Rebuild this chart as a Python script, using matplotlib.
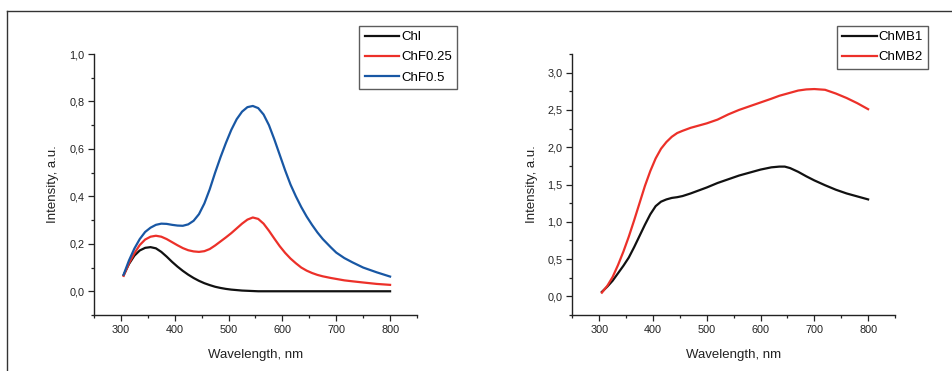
import matplotlib
matplotlib.use("Agg")
import matplotlib.pyplot as plt
from matplotlib.ticker import MultipleLocator, FuncFormatter
from matplotlib.lines import Line2D

plt.rcParams['font.family'] = ['Liberation Sans', 'DejaVu Sans']

# ---- Left panel data ----
wl_left = [305, 315, 325, 335, 345, 355, 365, 375, 385, 395, 405, 415, 425, 435, 445,
           455, 465, 475, 485, 495, 505, 515, 525, 535, 545, 555, 565, 575, 585, 595,
           605, 615, 625, 635, 645, 655, 665, 675, 690, 700, 715, 730, 750, 775, 800]
chl = [0.068, 0.115, 0.150, 0.172, 0.183, 0.186, 0.181, 0.166, 0.146, 0.124,
       0.104, 0.086, 0.070, 0.056, 0.044, 0.034, 0.026, 0.019, 0.014, 0.010,
       0.007, 0.005, 0.003, 0.002, 0.001, 0.0, 0.0, 0.0, 0.0, 0.0,
       0.0, 0.0, 0.0, 0.0, 0.0, 0.0, 0.0, 0.0, 0.0, 0.0, 0.0, 0.0, 0.0, 0.0, 0.0]
chf025 = [0.065, 0.118, 0.160, 0.195, 0.218, 0.230, 0.234, 0.230, 0.220, 0.207,
          0.194, 0.182, 0.173, 0.168, 0.166, 0.169, 0.178, 0.193, 0.210, 0.227,
          0.245, 0.265, 0.285, 0.302, 0.311, 0.305, 0.285, 0.255, 0.222, 0.190,
          0.162, 0.138, 0.118, 0.100, 0.087, 0.077, 0.069, 0.063, 0.056, 0.052,
          0.046, 0.042, 0.037, 0.031, 0.027]
chf05 = [0.070, 0.130, 0.180, 0.220, 0.250, 0.268, 0.280, 0.285, 0.284, 0.280,
         0.277, 0.276, 0.282, 0.297, 0.325, 0.370, 0.430, 0.500, 0.565, 0.625,
         0.680, 0.725, 0.757, 0.776, 0.781, 0.772, 0.745, 0.700, 0.640, 0.575,
         0.510, 0.450, 0.400, 0.355, 0.315, 0.280, 0.248, 0.220, 0.185, 0.163,
         0.140, 0.122, 0.100, 0.080, 0.062]

# ---- Right panel data ----
wl_right = [305, 315, 325, 335, 345, 355, 365, 375, 385, 395, 405, 415, 425, 435, 445,
            455, 470, 485, 500, 520, 540, 560, 580, 600, 620, 635, 645, 655, 670, 685,
            700, 720, 740, 760, 780, 800]
chmb1 = [0.06, 0.13, 0.21, 0.31, 0.41, 0.52, 0.66, 0.81, 0.96, 1.10,
         1.21, 1.27, 1.30, 1.32, 1.33, 1.345, 1.38, 1.42, 1.46, 1.52,
         1.57, 1.62, 1.66, 1.70, 1.73, 1.74, 1.74, 1.72, 1.67, 1.61,
         1.555, 1.49, 1.43, 1.38, 1.34, 1.30]
chmb2 = [0.05, 0.14, 0.26, 0.42, 0.60, 0.80, 1.02, 1.25, 1.48, 1.68,
         1.85, 1.98, 2.07, 2.14, 2.19, 2.22, 2.26, 2.29, 2.32, 2.37,
         2.44, 2.50, 2.55, 2.60, 2.65, 2.69, 2.71, 2.73, 2.76, 2.775,
         2.78, 2.77, 2.72, 2.66, 2.59, 2.51]

x_ticks = [300, 400, 500, 600, 700, 800]

BLACK = '#111111'
RED = '#ec3029'
BLUE = '#1857a4'

W, H = 952, 371
fig = plt.figure(figsize=(W / 100, H / 100), dpi=100)

comma = FuncFormatter(lambda v, p: f"{v:.1f}".replace('.', ','))


def style_axes(ax, ymaj, ymin):
    for s in ['top', 'right']:
        ax.spines[s].set_visible(False)
    for s in ['left', 'bottom']:
        ax.spines[s].set_linewidth(1.0)
        ax.spines[s].set_color('#222222')
    ax.set_xlim(250, 850)
    ax.set_xticks(x_ticks)
    ax.xaxis.set_minor_locator(MultipleLocator(50))
    ax.yaxis.set_major_locator(MultipleLocator(ymaj))
    ax.yaxis.set_minor_locator(MultipleLocator(ymin))
    ax.yaxis.set_major_formatter(comma)
    ax.tick_params(which='major', direction='out', length=4, width=0.9,
                   labelsize=7.8, colors='#222222', pad=3)
    ax.tick_params(which='minor', direction='out', length=2.5, width=0.9,
                   colors='#222222')
    ax.set_xlabel('Wavelength, nm', fontsize=9.5, color='#222222', labelpad=10)
    ax.set_ylabel('Intensity, a.u.', fontsize=9.5, color='#222222', labelpad=7)


bot = 1 - 315 / H
top = 1 - 54 / H
ax1 = fig.add_axes([94 / W, bot, (417 - 94) / W, top - bot])
ax2 = fig.add_axes([572.3 / W, bot, (895 - 572.3) / W, top - bot])

ax1.plot(wl_left, chl, color=BLACK, lw=1.6, label='Chl')
ax1.plot(wl_left, chf025, color=RED, lw=1.6, label='ChF0.25')
ax1.plot(wl_left, chf05, color=BLUE, lw=1.6, label='ChF0.5')
ax1.set_ylim(-0.1, 1.0)
style_axes(ax1, 0.2, 0.1)

ax2.plot(wl_right, chmb1, color=BLACK, lw=1.6, label='ChMB1')
ax2.plot(wl_right, chmb2, color=RED, lw=1.6, label='ChMB2')
ax2.set_ylim(-0.25, 3.25)
style_axes(ax2, 0.5, 0.25)

for ax, xr in [(ax1, 457), (ax2, 928.3)]:
    leg = ax.legend(loc='upper right', bbox_to_anchor=(xr / W, 1 - 25.7 / H),
                    bbox_transform=fig.transFigure, fontsize=9.5, frameon=True,
                    fancybox=False, edgecolor='#333333', handlelength=2.6,
                    handletextpad=0.15, borderpad=0.4, labelspacing=0.6,
                    borderaxespad=0)
    leg.get_frame().set_linewidth(1.0)

# outer frame lines (top and left)
fig.add_artist(Line2D([7 / W, 1.0], [1 - 11 / H, 1 - 11 / H],
                      transform=fig.transFigure, color='#333333', lw=1.0))
fig.add_artist(Line2D([7 / W, 7 / W], [0, 1 - 11 / H],
                      transform=fig.transFigure, color='#333333', lw=1.0))

fig.savefig('out.png', dpi=100)
